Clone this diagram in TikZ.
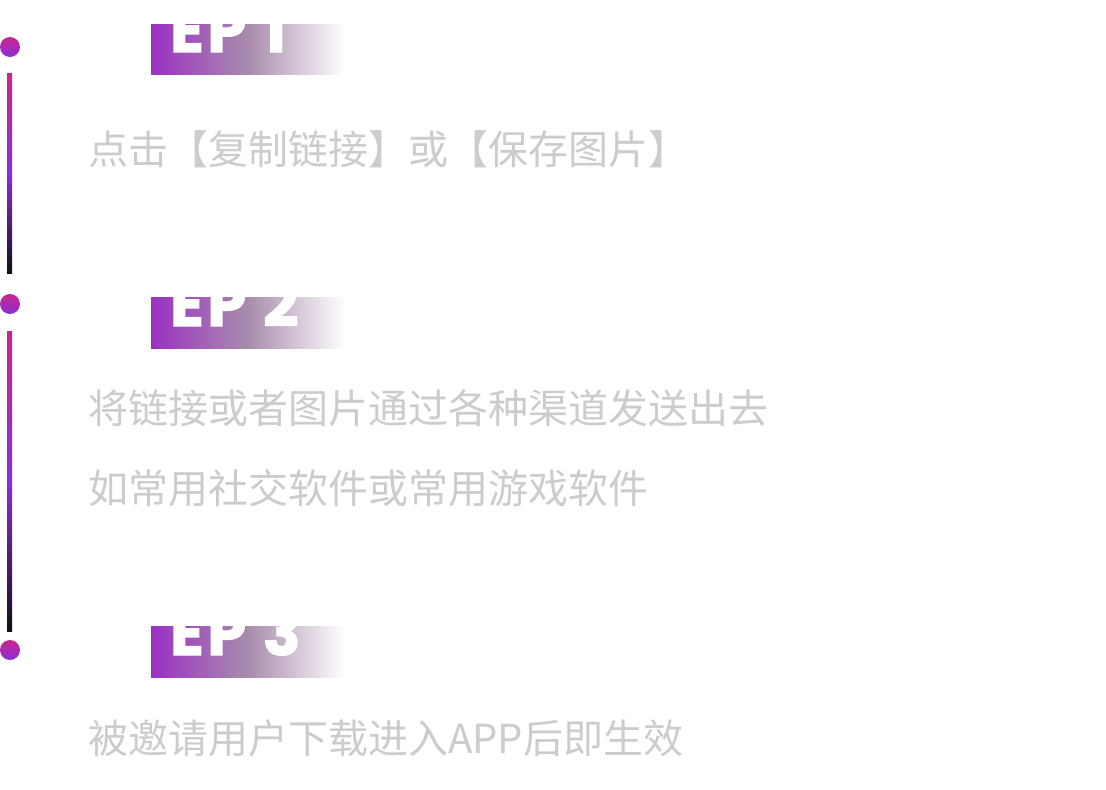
\documentclass[tikz,border=0pt]{standalone}
\usepackage{fontspec}
\newfontfamily\tagfont[LetterSpace=6, BoldFeatures={FakeBold=2}]{Poppins}
\newfontfamily\cjk{Noto Sans CJK SC}
\usepackage{xcolor}
\definecolor{stepmag}{RGB}{200,40,140}
\definecolor{steppur}{RGB}{140,45,215}
\definecolor{stepbar}{RGB}{155,48,196}
\definecolor{stepmid}{RGB}{168,140,172}
\definecolor{steptxt}{RGB}{204,204,204}
\definecolor{stepdark}{RGB}{20,14,24}

\begin{document}
\begin{tikzpicture}[x=1pt, y=-1pt,
  dot/.style={circle, minimum size=20pt, inner sep=0pt, top color=stepmag, bottom color=steppur},
  bar/.style={top color=stepmag, bottom color=stepdark, middle color=steppur},
  band/.style={left color=stepbar, right color=white, middle color=stepmid},
  tag/.style={anchor=base west, inner sep=0pt, text=white, font=\tagfont\bfseries\fontsize{62}{62}\selectfont},
  desc/.style={anchor=west, inner sep=0pt, text=steptxt, font=\cjk\fontsize{40}{40}\selectfont}]
  \useasboundingbox (0,0) rectangle (1106,790);

  % timeline
  \node[dot] (d1) at (10,47) {};
  \node[dot] (d2) at (10,304) {};
  \node[dot] (d3) at (10,650) {};
  \shade[bar] (7,73) rectangle (12,273);
  \shade[bar] (7,331) rectangle (12,631);

  % step labels
  \shade[band] (151,24) rectangle (345,74);
  \shade[band] (151,297) rectangle (345,348);
  \shade[band] (151,626) rectangle (345,677);
  \node[tag] (s1) at (170,52) {EP 1};
  \node[tag] (s2) at (170,326) {EP 2};
  \node[tag] (s3) at (170,655) {EP 3};

  % descriptions
  \node[desc] (t1) at (88,149) {点击【复制链接】或【保存图片】};
  \node[desc] (t2) at (88,408) {将链接或者图片通过各种渠道发送出去};
  \node[desc] (t3) at (88,488) {如常用社交软件或常用游戏软件};
  \node[desc] (t4) at (88,738) {被邀请用户下载进入APP后即生效};
\end{tikzpicture}
\end{document}
